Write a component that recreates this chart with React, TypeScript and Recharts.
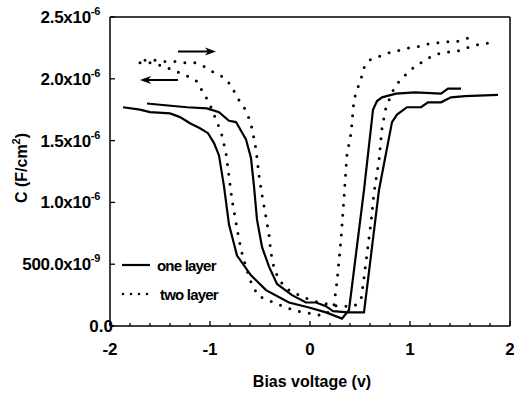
import React from 'react';
import { LineChart, Line, XAxis, YAxis, ReferenceLine, Legend, Label } from 'recharts';

// bias voltage (V) vs capacitance (x1e-6 F/cm2)
const oneLayerSweepA = [
  { v: -1.87, c: 1.77 }, { v: -1.7, c: 1.75 }, { v: -1.6, c: 1.73 }, { v: -1.4, c: 1.72 },
  { v: -1.3, c: 1.69 }, { v: -1.2, c: 1.64 }, { v: -1.1, c: 1.6 }, { v: -1.02, c: 1.56 },
  { v: -0.96, c: 1.48 }, { v: -0.91, c: 1.38 }, { v: -0.86, c: 1.13 }, { v: -0.81, c: 0.82 },
  { v: -0.73, c: 0.57 }, { v: -0.59, c: 0.41 }, { v: -0.44, c: 0.29 }, { v: -0.21, c: 0.19 },
  { v: -0.01, c: 0.15 }, { v: 0.16, c: 0.11 }, { v: 0.32, c: 0.06 }, { v: 0.39, c: 0.13 },
  { v: 0.54, c: 1.1 }, { v: 0.63, c: 1.75 }, { v: 0.67, c: 1.82 }, { v: 0.72, c: 1.85 },
  { v: 0.86, c: 1.88 }, { v: 1.05, c: 1.89 }, { v: 1.31, c: 1.88 }, { v: 1.38, c: 1.92 },
  { v: 1.51, c: 1.92 },
];

const oneLayerSweepB = [
  { v: -1.63, c: 1.8 }, { v: -1.5, c: 1.79 }, { v: -1.23, c: 1.77 }, { v: -1.03, c: 1.76 },
  { v: -0.91, c: 1.73 }, { v: -0.81, c: 1.66 }, { v: -0.74, c: 1.65 }, { v: -0.64, c: 1.51 },
  { v: -0.59, c: 1.36 }, { v: -0.56, c: 1.13 }, { v: -0.53, c: 0.86 }, { v: -0.48, c: 0.64 },
  { v: -0.41, c: 0.48 }, { v: -0.33, c: 0.34 }, { v: -0.18, c: 0.25 }, { v: -0.04, c: 0.19 },
  { v: 0.06, c: 0.19 }, { v: 0.16, c: 0.16 }, { v: 0.23, c: 0.12 }, { v: 0.38, c: 0.11 },
  { v: 0.54, c: 0.11 }, { v: 0.69, c: 1.1 }, { v: 0.82, c: 1.65 }, { v: 0.87, c: 1.71 },
  { v: 0.97, c: 1.77 }, { v: 1.11, c: 1.77 }, { v: 1.18, c: 1.81 }, { v: 1.31, c: 1.81 },
  { v: 1.41, c: 1.85 }, { v: 1.55, c: 1.86 }, { v: 1.88, c: 1.87 },
];

const twoLayerSweepA = [
  { v: -1.7, c: 2.13 }, { v: -1.6, c: 2.13 }, { v: -1.5, c: 2.11 }, { v: -1.4, c: 2.08 },
  { v: -1.31, c: 2.05 }, { v: -1.22, c: 2.02 }, { v: -1.13, c: 1.98 }, { v: -1.07, c: 1.89 },
  { v: -1.01, c: 1.81 }, { v: -0.92, c: 1.63 }, { v: -0.88, c: 1.54 }, { v: -0.84, c: 1.4 },
  { v: -0.78, c: 1.02 }, { v: -0.71, c: 0.7 }, { v: -0.68, c: 0.59 }, { v: -0.63, c: 0.45 },
  { v: -0.58, c: 0.33 }, { v: -0.51, c: 0.24 }, { v: -0.36, c: 0.19 }, { v: -0.24, c: 0.15 },
  { v: -0.14, c: 0.12 }, { v: -0.04, c: 0.11 }, { v: 0.06, c: 0.09 }, { v: 0.16, c: 0.09 },
  { v: 0.24, c: 0.17 }, { v: 0.27, c: 0.36 }, { v: 0.31, c: 0.7 }, { v: 0.34, c: 1.04 },
  { v: 0.37, c: 1.39 }, { v: 0.41, c: 1.56 }, { v: 0.44, c: 1.83 }, { v: 0.47, c: 1.91 },
  { v: 0.51, c: 2.0 }, { v: 0.54, c: 2.09 }, { v: 0.59, c: 2.15 }, { v: 0.69, c: 2.18 },
  { v: 0.79, c: 2.21 }, { v: 0.89, c: 2.23 }, { v: 0.99, c: 2.25 }, { v: 1.08, c: 2.26 },
  { v: 1.16, c: 2.28 }, { v: 1.26, c: 2.29 }, { v: 1.36, c: 2.3 }, { v: 1.46, c: 2.3 },
  { v: 1.55, c: 2.32 }, { v: 1.65, c: 2.35 },
];

const twoLayerSweepB = [
  { v: -1.65, c: 2.15 }, { v: -1.54, c: 2.15 }, { v: -1.45, c: 2.14 }, { v: -1.35, c: 2.14 },
  { v: -1.25, c: 2.13 }, { v: -1.15, c: 2.13 }, { v: -1.06, c: 2.1 }, { v: -0.98, c: 2.06 },
  { v: -0.88, c: 2.02 }, { v: -0.79, c: 1.95 }, { v: -0.73, c: 1.85 }, { v: -0.66, c: 1.77 },
  { v: -0.61, c: 1.68 }, { v: -0.58, c: 1.6 }, { v: -0.54, c: 1.43 }, { v: -0.51, c: 1.22 },
  { v: -0.48, c: 1.06 }, { v: -0.44, c: 0.88 }, { v: -0.41, c: 0.74 }, { v: -0.39, c: 0.59 },
  { v: -0.36, c: 0.47 }, { v: -0.31, c: 0.37 }, { v: -0.21, c: 0.29 }, { v: -0.06, c: 0.23 },
  { v: 0.09, c: 0.19 }, { v: 0.29, c: 0.16 }, { v: 0.44, c: 0.16 }, { v: 0.51, c: 0.21 },
  { v: 0.54, c: 0.39 }, { v: 0.61, c: 0.84 }, { v: 0.64, c: 1.08 }, { v: 0.69, c: 1.34 },
  { v: 0.72, c: 1.6 }, { v: 0.76, c: 1.77 }, { v: 0.85, c: 1.94 }, { v: 0.94, c: 2.02 },
  { v: 1.02, c: 2.08 }, { v: 1.11, c: 2.13 }, { v: 1.21, c: 2.18 }, { v: 1.31, c: 2.21 },
  { v: 1.41, c: 2.22 }, { v: 1.51, c: 2.23 }, { v: 1.6, c: 2.26 }, { v: 1.7, c: 2.28 },
  { v: 1.79, c: 2.29 },
];

const yTicks = [0, 0.5, 1, 1.5, 2, 2.5];
const yTickBase = ['0.0', '500.0x10', '1.0x10', '1.5x10', '2.0x10', '2.5x10'];
const yTickExp = ['', '-9', '-6', '-6', '-6', '-6'];
const xTicks = [
  -2, -1.8, -1.6, -1.4, -1.2, -1, -0.8, -0.6, -0.4, -0.2, 0,
  0.2, 0.4, 0.6, 0.8, 1, 1.2, 1.4, 1.6, 1.8, 2,
];
const legendNames = ['one layer', 'two layer'];
// sweep direction arrows: [start V, end V, C]
const arrowForward = [-1.32, -0.94, 2.22];
const arrowReverse = [-1.32, -1.7, 1.99];

const FONT = '"Liberation Sans", Arial, Helvetica, sans-serif';

const XTick = ({ x, y, payload }: any) => {
  const v = payload.value;
  const major = Math.abs(v - Math.round(v)) < 1e-6;
  return (
    <g>
      <line x1={x} x2={x} y1={y} y2={y - (major ? 5 : 3)} stroke="#000" strokeWidth={1.3} />
      {major && (
        <text x={x} y={y + 29} textAnchor="middle" fontFamily={FONT} fontSize={17} fontWeight="bold" fill="#000">
          {Math.round(v)}
        </text>
      )}
    </g>
  );
};

const YTick = ({ x, y, payload }: any) => {
  const i = yTicks.indexOf(payload.value);
  const base = yTickBase[i];
  const exp = yTickExp[i];
  return (
    <g>
      <line x1={x} x2={x + 5} y1={y} y2={y} stroke="#000" strokeWidth={1.3} />
      {exp ? (
        <text x={x - 10} y={y + 6} textAnchor="end" fontFamily={FONT} fontSize={17} fontWeight="bold" fill="#000" letterSpacing={-0.3}>
          {base}
          <tspan fontSize={11} dy={-8}>{exp}</tspan>
        </text>
      ) : (
        <text x={x + 3} y={y + 6} textAnchor="end" fontFamily={FONT} fontSize={17} fontWeight="bold" fill="#000">
          {base}
        </text>
      )}
    </g>
  );
};

const ArrowShape = (props: any) => {
  const { x1, y1, x2, y2 } = props;
  const dir = x2 > x1 ? 1 : -1;
  return (
    <g>
      <line x1={x1} y1={y1} x2={x2 - dir * 4} y2={y2} stroke="#000" strokeWidth={2} />
      <polygon
        points={`${x2},${y2} ${x2 - dir * 11},${y2 - 4} ${x2 - dir * 8},${y2} ${x2 - dir * 11},${y2 + 4}`}
        fill="#000"
      />
    </g>
  );
};

const LegendBox = () => (
  <svg width={130} height={50} style={{ display: 'block' }}>
    <line x1={4} x2={32} y1={11} y2={11} stroke="#000" strokeWidth={2.2} />
    <text x={39} y={17} fontFamily={FONT} fontSize={15} fontWeight="bold" letterSpacing={-0.8} fill="#000">
      {legendNames[0]}
    </text>
    <line x1={5} x2={32} y1={40} y2={40} stroke="#000" strokeWidth={2.6} strokeDasharray="0 8" strokeLinecap="round" />
    <text x={42} y={46} fontFamily={FONT} fontSize={15} fontWeight="bold" letterSpacing={-0.8} fill="#000">
      {legendNames[1]}
    </text>
  </svg>
);

const XTitle = ({ viewBox }: any) => (
  <text x={viewBox.x + viewBox.width / 2 + 2} y={viewBox.y + 61} textAnchor="middle" fontFamily={FONT} fontSize={16} fontWeight="bold" fill="#000">
    Bias voltage (v)
  </text>
);

const YTitle = () => (
  <text x={27} y={168} transform="rotate(-90, 27, 168)" textAnchor="middle" fontFamily={FONT} fontSize={16} fontWeight="bold" fill="#000">
    C (F/cm<tspan fontSize={11} dy={-7}>2</tspan><tspan dy={7}>)</tspan>
  </text>
);

export default function App() {
  const solid = { stroke: '#000', strokeWidth: 2.2, dot: false, isAnimationActive: false, type: 'linear' as const };
  const dotted = { ...solid, strokeWidth: 3, strokeDasharray: '0 10', strokeLinecap: 'round' as const };
  return (
    <div style={{ position: 'absolute', left: 0, top: 0, width: 514, height: 396, background: '#fff' }}>
      <LineChart width={514} height={396} margin={{ top: 17, right: 4, bottom: 0, left: 0 }}>
        <XAxis
          type="number"
          dataKey="v"
          domain={[-2, 2]}
          ticks={xTicks}
          interval={0}
          height={70}
          tickSize={0}
          tickMargin={0}
          tick={<XTick />}
          axisLine={{ stroke: '#000', strokeWidth: 1.5 }}
          allowDataOverflow
        >
          <Label content={<XTitle />} />
        </XAxis>
        <YAxis
          type="number"
          dataKey="c"
          domain={[0, 2.5]}
          ticks={yTicks}
          interval={0}
          width={110}
          tickSize={0}
          tickMargin={0}
          tick={<YTick />}
          axisLine={{ stroke: '#000', strokeWidth: 1.5 }}
          allowDataOverflow
        >
          <Label content={<YTitle />} />
        </YAxis>
        <ReferenceLine y={2.5} stroke="#000" strokeWidth={1.5} />
        <ReferenceLine x={2} stroke="#000" strokeWidth={1.5} />
        <Line data={oneLayerSweepA} dataKey="c" name="one layer A" {...solid} />
        <Line data={oneLayerSweepB} dataKey="c" name="one layer B" {...solid} />
        <Line data={twoLayerSweepA} dataKey="c" name="two layer A" {...dotted} />
        <Line data={twoLayerSweepB} dataKey="c" name="two layer B" {...dotted} />
        <ReferenceLine
          segment={[{ x: arrowForward[0], y: arrowForward[2] }, { x: arrowForward[1], y: arrowForward[2] }]}
          shape={ArrowShape}
        />
        <ReferenceLine
          segment={[{ x: arrowReverse[0], y: arrowReverse[2] }, { x: arrowReverse[1], y: arrowReverse[2] }]}
          shape={ArrowShape}
        />
        <Legend
          layout="horizontal"
          verticalAlign="middle"
          align="center"
          content={() => <LegendBox />}
          wrapperStyle={{ left: 118, top: 254, width: 130, height: 50 }}
        />
      </LineChart>
    </div>
  );
}
